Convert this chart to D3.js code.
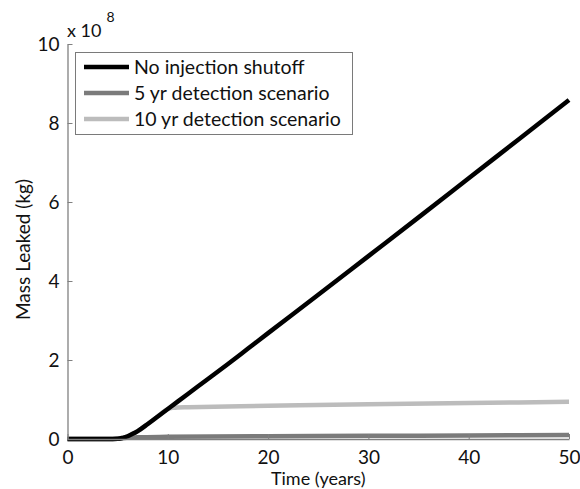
<!DOCTYPE html>
<html>
<head>
<meta charset="utf-8">
<script src="https://cdn.jsdelivr.net/npm/d3@7"></script>
<style>
  html, body { margin: 0; padding: 0; background: #fff; }
  svg text { font-family: Lato, "Open Sans", sans-serif; fill: #111; }
</style>
</head>
<body>
<svg id="chart" width="580" height="489"></svg>
<script>
// Cumulative CO2 mass leaked (units of 1e8 kg) versus time in years
const years        = [0, 4, 5, 5.5, 6, 6.5, 7, 8, 9, 10, 12, 14, 16, 18, 20, 25, 30, 35, 40, 45, 50];
const noShutoff    = [0, 0, 0.005, 0.03, 0.07, 0.13, 0.2, 0.38, 0.57, 0.76, 1.14, 1.52, 1.9, 2.29, 2.68, 3.65, 4.63, 5.61, 6.6, 7.59, 8.58];

const years5       = [0, 4, 5, 5.5, 6, 7, 10, 20, 30, 40, 50];
const detect5yr    = [0, 0, 0.005, 0.02, 0.03, 0.045, 0.055, 0.07, 0.08, 0.09, 0.10];

const years10      = [0, 4, 5, 5.5, 6, 6.5, 7, 8, 9, 10, 10.5, 11, 12, 20, 30, 40, 50];
const detect10yr   = [0, 0, 0.005, 0.03, 0.07, 0.13, 0.2, 0.38, 0.57, 0.76, 0.79, 0.80, 0.805, 0.84, 0.88, 0.91, 0.94];

const xTicks = [0, 10, 20, 30, 40, 50];
const yTicks = [0, 2, 4, 6, 8, 10];

const seriesNames = ["No injection shutoff", "5 yr detection scenario", "10 yr detection scenario"];
const seriesColors = ["#000000", "#7b7b7b", "#bcbcbc"];

const font = "Lato, 'Open Sans', sans-serif";
const svg = d3.select("#chart");
const x = d3.scaleLinear().domain([0, 50]).range([67.5, 569]);
const y = d3.scaleLinear().domain([0, 10]).range([439, 44]);

const line = d3.line()
  .x(d => x(d[0]))
  .y(d => y(d[1]))
  .curve(d3.curveMonotoneX);

const series = [
  { name: seriesNames[2], color: seriesColors[2], pts: d3.zip(years10, detect10yr) },
  { name: seriesNames[1], color: seriesColors[1], pts: d3.zip(years5, detect5yr) },
  { name: seriesNames[0], color: seriesColors[0], pts: d3.zip(years, noShutoff) }
];

svg.append("g").selectAll("path")
  .data(series)
  .join("path")
  .attr("d", d => line(d.pts))
  .attr("fill", "none")
  .attr("stroke", d => d.color)
  .attr("stroke-width", 4.5)
  .attr("stroke-linejoin", "round");

// axes with inward ticks
const axisColor = "#808080";
const xAxis = svg.append("g")
  .attr("transform", `translate(0,${y(0)})`)
  .call(d3.axisBottom(x).tickValues(xTicks).tickSizeInner(-5).tickSizeOuter(0).tickPadding(12));
const yAxis = svg.append("g")
  .attr("transform", `translate(${x(0)},0)`)
  .call(d3.axisLeft(y).tickValues(yTicks).tickSizeInner(-5).tickSizeOuter(0).tickPadding(8));

[xAxis, yAxis].forEach(g => {
  g.select(".domain").attr("stroke", axisColor).attr("stroke-width", 1.3);
  g.selectAll(".tick line").attr("stroke", axisColor).attr("stroke-width", 1);
  g.selectAll(".tick text")
    .attr("font-family", font)
    .attr("font-size", 19)
    .attr("fill", "#111");
});
xAxis.selectAll(".tick text").attr("dy", "0.71em");
yAxis.selectAll(".tick text").attr("dy", "0.36em");

// exponent label
const expo = svg.append("text").attr("x", 67).attr("y", 37).attr("font-size", 18);
expo.append("tspan").text("x 10");
expo.append("tspan").attr("dx", 5).attr("dy", -15).attr("font-size", 14).text("8");

// axis titles
svg.append("text")
  .attr("x", x(25)).attr("y", 485)
  .attr("text-anchor", "middle")
  .attr("font-size", 18)
  .text("Time (years)");

svg.append("text")
  .attr("transform", `translate(30,${y(5) + 8}) rotate(-90)`)
  .attr("text-anchor", "middle")
  .attr("font-size", 19)
  .text("Mass Leaked (kg)");

// legend
const legend = svg.append("g");
legend.append("rect")
  .attr("x", 75.5).attr("y", 52.5)
  .attr("width", 277).attr("height", 82)
  .attr("fill", "#fff")
  .attr("stroke", "#7a7a7a")
  .attr("stroke-width", 1);

const legendRows = legend.selectAll("g.row")
  .data(seriesNames.map((n, i) => ({ name: n, color: seriesColors[i] })))
  .join("g")
  .attr("class", "row")
  .attr("transform", (d, i) => `translate(0,${67 + i * 26})`);

legendRows.append("line")
  .attr("x1", 84).attr("x2", 129)
  .attr("stroke", d => d.color)
  .attr("stroke-width", 4.5);

legendRows.append("text")
  .attr("x", 134).attr("y", 0).attr("dy", "0.35em")
  .attr("font-size", 19.5)
  .text(d => d.name);
</script>
</body>
</html>
